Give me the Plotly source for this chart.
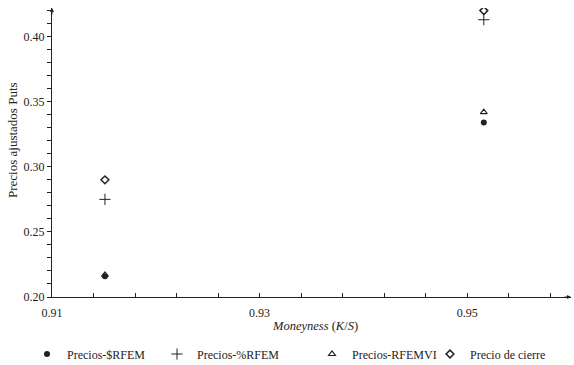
import plotly.graph_objects as go

moneyness = [0.9151, 0.9516]
precios_srfem = [0.216, 0.334]
precios_prfem = [0.275, 0.413]
precios_rfemvi = [0.217, 0.342]
precio_cierre = [0.290, 0.420]

series_names = ["Precios-$RFEM", "Precios-%RFEM", "Precios-RFEMVI", "Precio de cierre"]

x_tickvals = [0.91, 0.914, 0.918, 0.922, 0.926, 0.93, 0.934, 0.938, 0.942, 0.946, 0.95, 0.954, 0.958]
x_ticktext = ["0.91", "", "", "", "", "0.93", "", "", "", "", "0.95", "", ""]
y_tickvals = [0.20, 0.25, 0.30, 0.35, 0.40]
y_ticktext = ["0.20", "0.25", "0.30", "0.35", "0.40"]

FONT = "Liberation Serif, Times New Roman, serif"
INK = "#222"
W, H = 574, 365
L, R, T, B = 52, 3, 8, 68
pw, ph = W - L - R, H - T - B

fig = go.Figure()
styles = [
    dict(symbol="circle", size=6, color=INK, line=dict(width=0)),
    dict(symbol="cross-thin-open", size=8, color=INK, line=dict(width=1, color=INK)),
    dict(symbol="triangle-up-open", size=6, color=INK, line=dict(width=1.2, color=INK)),
    dict(symbol="diamond-open", size=6, color=INK, line=dict(width=1.5, color=INK)),
]
legend_ids = ["legend", "legend2", "legend3", "legend4"]
legend_px = [50, 180, 335, 453]  # symbol centre (pixels)
for name, ys, st, lg in zip(series_names, [precios_srfem, precios_prfem, precios_rfemvi, precio_cierre], styles, legend_ids):
    fig.add_trace(go.Scatter(x=moneyness, y=ys, mode="markers", name=name, marker=st, legend=lg))

legend_common = dict(orientation="h", yanchor="middle", xanchor="left",
                     font=dict(family=FONT, size=12, color=INK), itemwidth=30,
                     bgcolor="rgba(0,0,0,0)")
layout_legends = {}
for lg, px in zip(legend_ids, legend_px):
    layout_legends[lg] = dict(legend_common, x=(px - 23 - L) / pw, y=(H - B - 354) / ph)

fig.update_layout(
    width=W, height=H,
    margin=dict(l=L, r=R, t=T, b=B, autoexpand=False),
    plot_bgcolor="white", paper_bgcolor="white",
    font=dict(family=FONT, size=12, color=INK),
    showlegend=True,
    xaxis=dict(range=[0.91, 0.96], showgrid=False, zeroline=False, showline=True,
               linecolor=INK, linewidth=1, ticks="inside", ticklen=4, tickcolor=INK,
               tickvals=x_tickvals, ticktext=x_ticktext, ticklabelstandoff=5,
               tickfont=dict(family=FONT, size=12, color=INK)),
    yaxis=dict(range=[0.20, 0.422], showgrid=False, zeroline=False, showline=True,
               linecolor=INK, linewidth=1, ticks="outside", ticklen=4, tickcolor=INK,
               tickvals=y_tickvals, ticktext=y_ticktext,
               minor=dict(dtick=0.01, ticks="outside", ticklen=4, tickcolor=INK),
               tickfont=dict(family=FONT, size=12, color=INK)),
    **layout_legends,
)
# axis titles
fig.add_annotation(xref="paper", yref="paper", x=(315 - L) / pw, y=(H - B - 326) / ph,
                   text="<i>Moneyness</i> (<i>K</i>/<i>S</i>)", showarrow=False,
                   font=dict(family=FONT, size=12.5, color=INK), xanchor="center", yanchor="middle")
fig.add_annotation(xref="paper", yref="paper", x=(12 - L) / pw, y=(H - B - 140) / ph,
                   text="Precios ajustados Puts", showarrow=False, textangle=-90,
                   font=dict(family=FONT, size=13, color=INK), xanchor="center", yanchor="middle")
# axis-end arrowheads
fig.add_annotation(xref="paper", yref="paper", x=1.0, y=0, ax=-8, ay=0, axref="pixel", ayref="pixel",
                   text="", showarrow=True, arrowhead=2, arrowsize=0.8, arrowwidth=1, arrowcolor=INK)
fig.add_annotation(xref="paper", yref="paper", x=0, y=1.0, ax=0, ay=8, axref="pixel", ayref="pixel",
                   text="", showarrow=True, arrowhead=2, arrowsize=0.8, arrowwidth=1, arrowcolor=INK)

fig.write_html("out.html", config={"displayModeBar": False},
               post_script="document.body.style.margin='0';")
